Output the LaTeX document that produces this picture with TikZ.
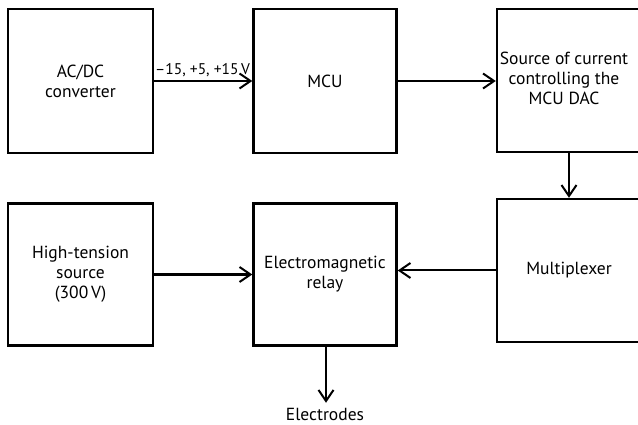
\documentclass[tikz,border=0pt]{standalone}
\usepackage{fontspec}
\setmainfont{PT Sans}
\usetikzlibrary{arrows.meta}
\tikzset{
  blk/.style={draw, line width=2.4pt, inner sep=0pt, align=center,
    font=\fontsize{17.5}{20}\selectfont},
  flow/.style={line width=2pt, -{Straight Barb[length=11pt,width=15pt]}},
  txt/.style={inner sep=0pt, outer sep=0pt, font=\fontsize{17.5}{20}\selectfont},
  note/.style={inner sep=0pt, outer sep=0pt, font=\fontsize{15.5}{18}\selectfont}
}
\begin{document}
\begin{tikzpicture}[x=1pt,y=-1pt]
\clip (0,0) rectangle (638,425);
\fill[white] (0,0) rectangle (638,425);

% upper row
\node[blk, minimum width=145pt, minimum height=144pt] (acdc) at (80.5,81) {AC/DC\\converter};
\node[blk, minimum width=143pt, minimum height=144pt] (mcu) at (325,81) {MCU};
\node[blk, minimum width=148pt, minimum height=143pt,
  label={[txt, xshift=-7pt]center:{\begin{tabular}{@{}c@{}}Source of current\\controlling the\\MCU DAC\end{tabular}}}]
  (src) at (571,80.5) {};

% lower row
\node[blk, minimum width=145pt, minimum height=142pt] (hts) at (80.5,274.5) {High-tension\\source\\(300\,V)};
\node[blk, minimum width=143pt, minimum height=142pt] (relay) at (325,274.5) {Electromagnetic\\relay};
\node[blk, minimum width=148pt, minimum height=143pt,
  label={[txt, xshift=-2pt]center:Multiplexer}]
  (mux) at (571,270.5) {};

\node[txt, anchor=base] (el) at (325,420) {Electrodes};

% connectors
\draw[flow] (acdc.east) -- (mcu.west)
  node[note, pos=0, anchor=base west, xshift=1pt, yshift=6pt] (lbl) {–15, +5, +15\,V};
\draw[flow] (mcu.east) -- (mcu.east -| src.west);
\draw[flow] ([xshift=-2pt]src.south) -- ([xshift=-2pt]src.south |- mux.north);
\draw[flow] (hts.east) -- (hts.east -| relay.west);
\draw[flow] (mux.west) -- (mux.west -| relay.east);
\draw[flow, shorten >=5pt] ([xshift=1pt]relay.south) -- ([xshift=1pt]el.north);
\end{tikzpicture}
\end{document}
